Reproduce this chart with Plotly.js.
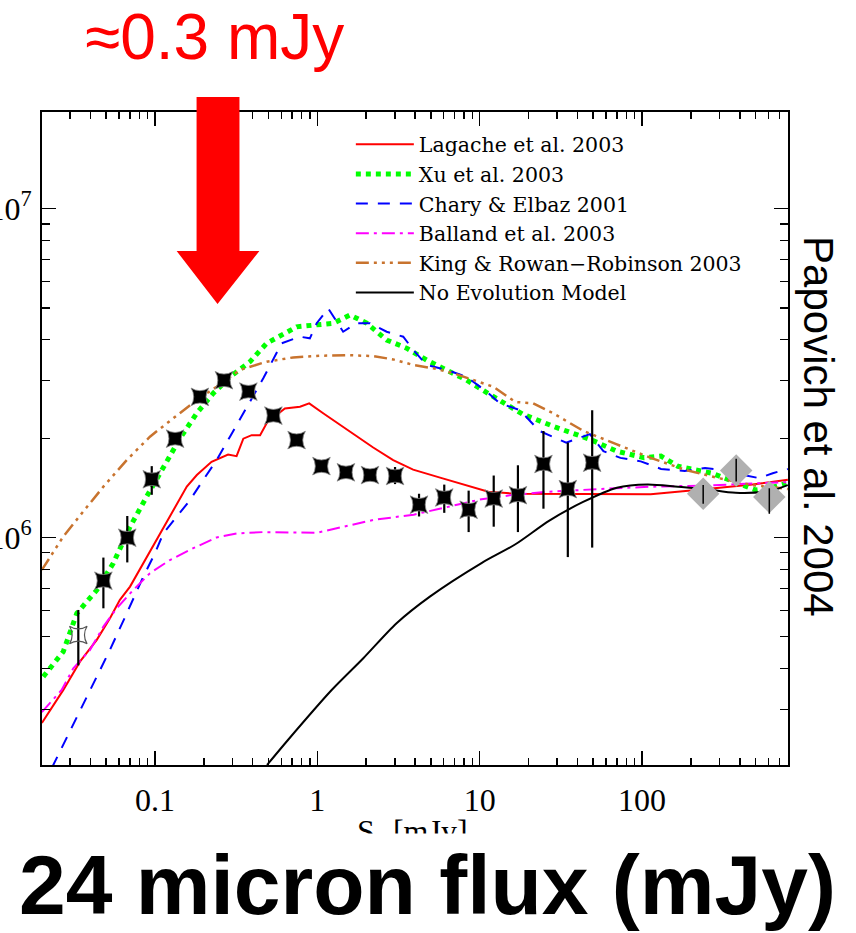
<!DOCTYPE html>
<html>
<head>
<meta charset="utf-8">
<script src="https://cdn.plot.ly/plotly-3.0.1.min.js"></script>
<style>html,body{margin:0;padding:0;background:#fff;} #chart{width:856px;height:933px;}</style>
</head>
<body>
<div id="chart"></div>
<script>
// ---- Model curves (S [mJy], differential counts) ----
const lagacheX = [0.0201,0.0272,0.0345,0.0438,0.0528,0.0608,0.0702,0.0847,0.102,0.127,0.157,0.181,0.223,0.282,0.318,0.350,0.394,0.444,0.488,0.561,0.631,0.782,0.891,1.086,1.442,2.208,2.931,3.890,5.77,8.07,11.3,16.6,26.9,52.5,113,233,479,791];
const lagacheY = [2.735e5,3.44e5,4.20e5,4.89e5,5.69e5,6.47e5,7.10e5,8.36e5,9.84e5,1.20e6,1.43e6,1.55e6,1.70e6,1.79e6,1.77e6,2.00e6,2.05e6,2.05e6,2.23e6,2.36e6,2.47e6,2.50e6,2.56e6,2.39e6,2.17e6,1.88e6,1.72e6,1.61e6,1.52e6,1.45e6,1.38e6,1.36e6,1.36e6,1.36e6,1.355e6,1.40e6,1.45e6,1.50e6];

const xuX = [0.0205,0.0272,0.0330,0.0438,0.0553,0.0702,0.0889,0.1125,0.1426,0.1807,0.2286,0.2897,0.3846,0.4875,0.7464,0.991,1.256,1.589,2.014,2.673,3.548,4.710,6.252,8.318,11.30,18.28,29.58,47.75,69.98,102.8,130.9,166.3,269.2,395.4,502.3,608.1,772.7];
const xuY = [3.78e5,4.50e5,5.89e5,6.93e5,8.36e5,1.079e6,1.334e6,1.644e6,2.004e6,2.388e6,2.748e6,3.083e6,3.428e6,3.899e6,4.375e6,4.436e6,4.487e6,4.753e6,4.487e6,3.990e6,3.767e6,3.467e6,3.236e6,3.013e6,2.742e6,2.377e6,2.163e6,1.991e6,1.832e6,1.750e6,1.770e6,1.648e6,1.570e6,1.462e6,1.396e6,1.413e6,1.462e6];

const charyX = [0.0232,0.0417,0.0528,0.0670,0.0847,0.1,0.1125,0.1361,0.1644,0.1982,0.2399,0.2897,0.3673,0.4645,0.6026,0.7816,0.8995,0.991,1.167,1.442,1.746,2.109,2.673,3.381,3.899,4.710,6.252,8.299,11.02,13.30,17.70,23.23,34.12,47.75,57.81,73.62,98.2,130.9,183.2,244.3,310.5,415.0,527.2,638.3,790.7];
const charyY = [2.0e5,3.61e5,4.56e5,5.89e5,7.61e5,8.97e5,1.031e6,1.158e6,1.302e6,1.498e6,1.723e6,2.028e6,2.500e6,3.051e6,3.899e6,4.083e6,4.036e6,4.487e6,4.977e6,4.227e6,4.487e6,4.487e6,4.227e6,4.083e6,3.720e6,3.350e6,3.236e6,3.083e6,2.780e6,2.563e6,2.443e6,2.113e6,1.945e6,2.064e6,1.832e6,1.748e6,1.706e6,1.618e6,1.596e6,1.628e6,1.609e6,1.552e6,1.517e6,1.570e6,1.618e6];

const ballandX = [0.0201,0.0266,0.0314,0.0398,0.0481,0.0581,0.0735,0.0931,0.1236,0.1722,0.2399,0.3184,0.4645,0.991,1.442,2.208,3.926,6.353,10.26,16.60,26.85,55.08,113.2,232.8,478.6,790.7];
const ballandY = [2.951e5,3.443e5,4.009e5,4.560e5,5.365e5,6.101e5,6.934e5,7.798e5,8.551e5,9.290e5,1.002e6,1.030e6,1.040e6,1.035e6,1.079e6,1.132e6,1.175e6,1.239e6,1.309e6,1.352e6,1.380e6,1.406e6,1.429e6,1.439e6,1.462e6,1.476e6];

const kingX = [0.0201,0.0272,0.0361,0.0481,0.0670,0.0931,0.1297,0.1807,0.2399,0.3334,0.4875,0.7096,1.038,1.514,2.208,2.931,3.899,5.176,6.871,9.120,12.11,16.60,21.33,28.38,43.35,69.98,113.2,183.2,296.5,478.6,790.7];
const kingY = [7.980e5,1.007e6,1.200e6,1.429e6,1.722e6,2.028e6,2.307e6,2.621e6,2.877e6,3.236e6,3.428e6,3.532e6,3.573e6,3.589e6,3.565e6,3.483e6,3.350e6,3.273e6,3.162e6,3.013e6,2.877e6,2.585e6,2.563e6,2.388e6,2.113e6,1.921e6,1.748e6,1.609e6,1.517e6,1.445e6,1.406e6];

const noEvoX = [0.4898,0.6592,1.225,1.919,3.076,4.932,10.26,16.60,26.85,43.35,69.98,107.9,166.3,244.3,376.7,608.1,790.7];
const noEvoY = [2.037e5,2.427e5,3.443e5,4.30e5,5.495e5,6.622e5,8.375e5,9.550e5,1.127e6,1.284e6,1.419e6,1.452e6,1.429e6,1.406e6,1.369e6,1.386e6,1.445e6];

// ---- Measured counts (stars) ----
const starX     = [0.0481,0.0675,0.0955,0.133,0.189,0.266,0.376,0.536,0.745,1.06,1.50,2.11,3.01,4.23,6.05,8.55,12.2,17.2,24.7,34.9,49.3];
const starY     = [7.40e5,1.0e6,1.505e6,2.0e6,2.68e6,3.01e6,2.78e6,2.35e6,1.98e6,1.65e6,1.58e6,1.55e6,1.54e6,1.26e6,1.325e6,1.216e6,1.315e6,1.346e6,1.675e6,1.405e6,1.69e6];
const starUpper = [8.7e5,1.164e6,1.65e6,2.0e6,2.68e6,3.01e6,2.78e6,2.35e6,1.98e6,1.65e6,1.58e6,1.55e6,1.64e6,1.36e6,1.45e6,1.39e6,1.545e6,1.66e6,2.11e6,1.945e6,2.44e6];
const starLower = [6.1e5,8.41e5,1.35e6,2.0e6,2.68e6,3.01e6,2.78e6,2.35e6,1.98e6,1.65e6,1.58e6,1.55e6,1.455e6,1.16e6,1.19e6,1.04e6,1.08e6,1.04e6,1.225e6,8.73e5,9.33e5];

const openX = [0.0337];
const openY = [5.06e5];
const openUpper = [6.03e5];
const openLower = [4.09e5];

// ---- Bright-source counts (grey diamonds) ----
const diaX = [238,380,608];
const diaY = [1.36e6,1.60e6,1.33e6];
const diaUpper = [1.445e6,1.738e6,1.413e6];
const diaLower = [1.268e6,1.481e6,1.182e6];

// ---- Labels ----
const seriesNames = ["Lagache et al. 2003","Xu et al. 2003","Chary & Elbaz 2001","Balland et al. 2003","King & Rowan\u2212Robinson 2003","No Evolution Model"];
const xTickVals = [0.1,1,10,100];
const xTickText = ["0.1","1","10","100"];
const yTickVals = [1e6,1e7];
const yTickText = ["10<sup>6</sup>","10<sup>7</sup>"];
const xTitle = "S<sub>\u03bd</sub> [mJy]";
const arrowLabel = "\u22480.3 mJy";
const sideLabel = "Papovich et al. 2004";
const bottomLabel = "24 micron flux (mJy)";

const diff = (a, b) => a.map((v, i) => v - b[i]);

const curveStyles = [
  {color:'#ff0000', width:2, dash:'solid'},
  {color:'#00ff00', width:5, dash:'dot'},
  {color:'#0000ff', width:2, dash:'12px,10px'},
  {color:'#ff00ff', width:2, dash:'13px,5px,3px,5px'},
  {color:'#c8732e', width:2.5, dash:'13px,5px,3px,5px,3px,5px,3px,5px'},
  {color:'#000000', width:2, dash:'solid', shape:'spline'}
];
const curves = [[lagacheX,lagacheY],[xuX,xuY],[charyX,charyY],[ballandX,ballandY],[kingX,kingY],[noEvoX,noEvoY]];

const traces = curves.map((c, i) => ({
  x: c[0], y: c[1], type:'scatter', mode:'lines', name: seriesNames[i],
  line: {color: curveStyles[i].color, width: curveStyles[i].width, dash: curveStyles[i].dash,
         shape: curveStyles[i].shape || 'linear', smoothing: 0.8},
  hoverinfo:'skip'
}));

traces.push({
  x: openX, y: openY, type:'scatter', mode:'markers', showlegend:false,
  marker:{symbol:'star-square-open', size:16, color:'#555', line:{width:1.2, color:'#555'}},
  error_y:{type:'data', symmetric:false, array: diff(openUpper, openY), arrayminus: diff(openY, openLower), color:'#000', thickness:2.2, width:0}
});
traces.push({
  x: starX, y: starY, type:'scatter', mode:'markers', showlegend:false,
  marker:{symbol:'star-square', size:16, color:'#000', line:{width:0.8, color:'#888'}},
  error_y:{type:'data', symmetric:false, array: diff(starUpper, starY), arrayminus: diff(starY, starLower), color:'#000', thickness:2.2, width:0}
});
traces.push({
  x: diaX, y: diaY, type:'scatter', mode:'markers', showlegend:false,
  marker:{symbol:'diamond', size:25, color:'#b0b0b0', line:{width:0}}
});
traces.push({
  x: diaX, y: diaY, type:'scatter', mode:'markers', showlegend:false,
  marker:{size:1, color:'rgba(0,0,0,0)'},
  error_y:{type:'data', symmetric:false, array: diff(diaUpper, diaY), arrayminus: diff(diaY, diaLower), color:'#000', thickness:1.5, width:0}
});

function minorTicks(lo, hi) {
  const out = [];
  for (let e = lo; e <= hi; e++) for (let d = 2; d <= 9; d++) out.push(d * Math.pow(10, e));
  return out;
}

const tickFont = {family:'Liberation Serif, Times New Roman, serif', size:32, color:'#000'};
const axisCommon = {
  type:'log', showgrid:false, zeroline:false, showline:true, linecolor:'#000', linewidth:2,
  mirror:'allticks', ticks:'inside', ticklen:14, tickwidth:1.5, tickcolor:'#000',
  tickfont: tickFont, tickmode:'array', automargin:false
};

const layout = {
  width:856, height:933,
  margin:{l:42, r:68, t:112, b:168},
  paper_bgcolor:'#fff', plot_bgcolor:'#fff',
  showlegend:true,
  legend:{x:0.414, y:0.981, xanchor:'left', yanchor:'top', bgcolor:'rgba(0,0,0,0)', borderwidth:0,
    font:{family:'DejaVu Serif, serif', size:20.5, color:'#000'}, itemwidth:58, tracegroupgap:0},
  xaxis: Object.assign({}, axisCommon, {
    range:[-1.696, 2.899], tickvals:xTickVals, ticktext:xTickText, ticklabelstandoff:6,
    minor:{tickvals: minorTicks(-2, 2), ticks:'inside', ticklen:7, tickwidth:1.5, tickcolor:'#000'}
  }),
  yaxis: Object.assign({}, axisCommon, {
    range:[5.309, 7.294], tickvals:yTickVals, ticktext:yTickText, ticklabelstandoff:2,
    minor:{tickvals: minorTicks(5, 7), ticks:'inside', ticklen:8, tickwidth:1.5, tickcolor:'#000'}
  }),
  shapes:[{
    type:'path', xref:'paper', yref:'paper', layer:'above',
    path:'M0.2072,1.0230 L0.2647,1.0230 L0.2647,0.7871 L0.2914,0.7871 L0.2353,0.7060 L0.1805,0.7871 L0.2072,0.7871 Z',
    fillcolor:'#ff0000', line:{width:0}
  }],
  annotations:[
    {text: arrowLabel, xref:'paper', yref:'paper', x:0.0548, y:1.115, xanchor:'left', yanchor:'middle', showarrow:false,
      font:{family:'Liberation Sans, Arial, sans-serif', size:64, color:'#ff0000'}},
    {text: sideLabel, xref:'paper', yref:'paper', x:1.0415, y:0.5176, xanchor:'center', yanchor:'middle', showarrow:false,
      textangle:90, font:{family:'Liberation Sans, Arial, sans-serif', size:42, color:'#000'}},
    {text: xTitle, xref:'paper', yref:'paper', x:0.4973, y:-0.0704, xanchor:'center', yanchor:'top', showarrow:false,
      font:{family:'Liberation Serif, Times New Roman, serif', size:32, color:'#000'}},
    {text:' ', xref:'paper', yref:'paper', x:0.5134, y:-0.1041, xanchor:'center', yanchor:'top', showarrow:false,
      width:856, height:100, bgcolor:'#ffffff', borderpad:0},
    {text: '<b>' + bottomLabel + '</b>', xref:'paper', yref:'paper', x:0.517, y:-0.1845, xanchor:'center', yanchor:'middle', showarrow:false,
      font:{family:'Liberation Sans, Arial, sans-serif', size:84, color:'#000'}}
  ]
};

Plotly.newPlot('chart', traces, layout, {staticPlot:true, displayModeBar:false});
</script>
</body>
</html>
